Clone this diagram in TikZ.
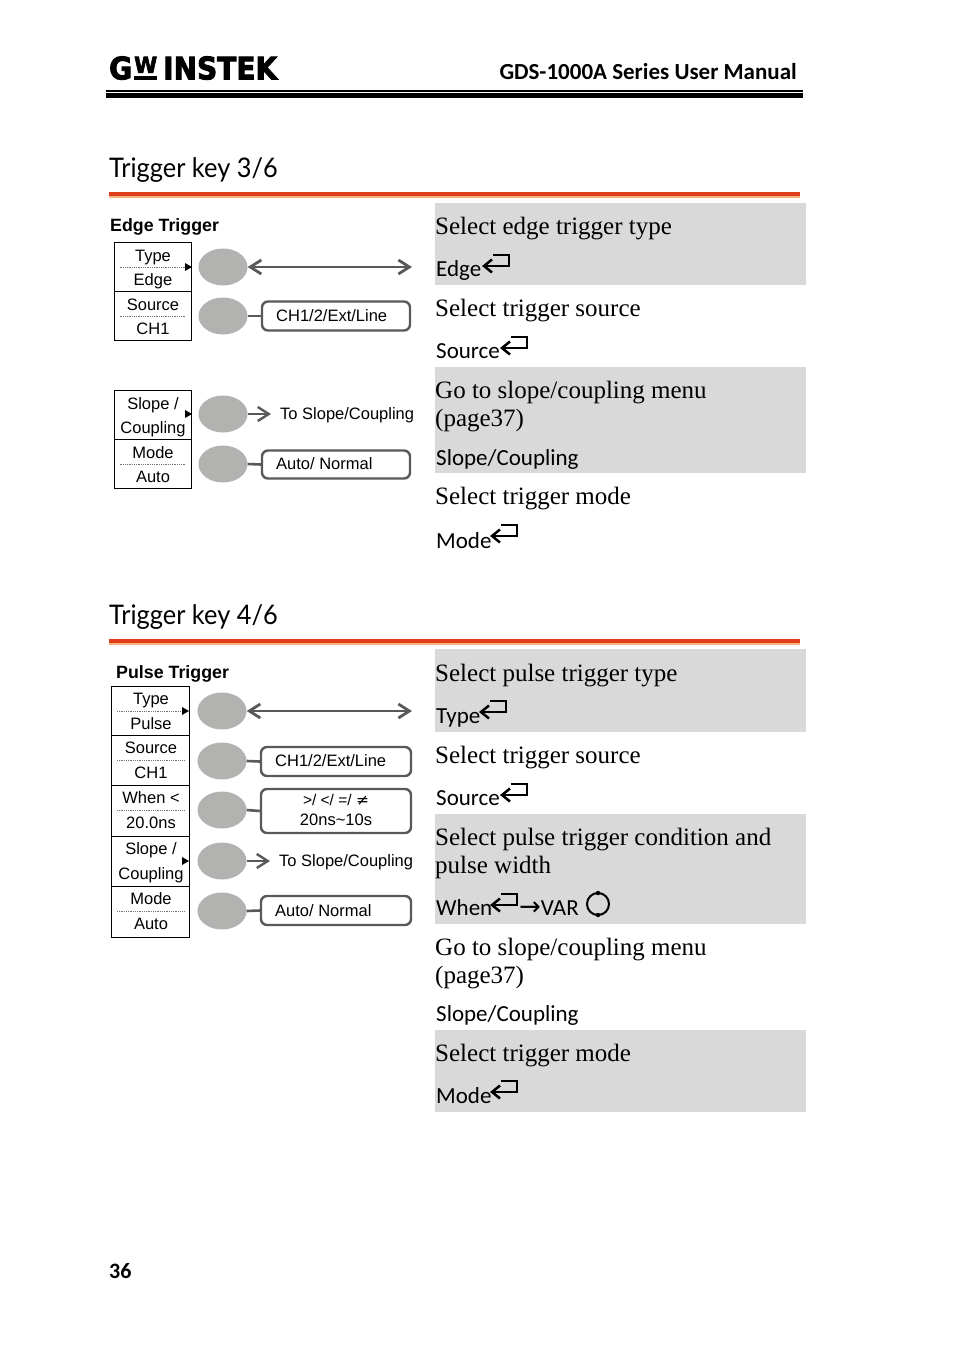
\documentclass[tikz,border=0pt]{standalone}
\usepackage{fontspec}
\usetikzlibrary{arrows.meta,calc,shapes.geometric}
\setmainfont{Liberation Serif}
\newfontfamily\arialf{Liberation Sans}
\newfontfamily\gillf[FakeStretch=0.94]{Lato}
\newfontfamily\keyf{Carlito}
\newfontfamily\logof[FakeBold=3]{DejaVu Sans}
\newfontfamily\symf{DejaVu Sans}
\definecolor{bandgray}{HTML}{D9D9D9}
\definecolor{knobgray}{HTML}{B2B2B1}
\definecolor{linegray}{HTML}{595959}
\definecolor{rulered}{HTML}{DF3F1B}
\definecolor{ruletan}{HTML}{F5B37F}
\tikzset{
  band/.style={fill=bandgray,draw=none},
  body/.style={anchor=base west,inner sep=0pt,font=\fontsize{25}{28}\selectfont},
  keytext/.style={anchor=base west,inner sep=0pt,font=\keyf\fontsize{23}{28}\selectfont},
  title/.style={anchor=base west,inner sep=0pt,font=\gillf\fontsize{27}{30}\selectfont},
  subhead/.style={anchor=base west,inner sep=0pt,font=\arialf\bfseries\fontsize{17.8}{20}\selectfont},
  cellbox/.style={draw=black,line width=1pt,inner sep=0pt,fill=white},
  celltext/.style={anchor=base,inner sep=0pt,font=\arialf\fontsize{16.5}{19}\selectfont},
  knob/.style={ellipse,fill=knobgray,inner sep=0pt,minimum width=49pt,minimum height=37pt},
  optbox/.style={draw=linegray,line width=2.4pt,rounded corners=6pt,fill=white,inner sep=0pt},
  optline/.style={draw=linegray,line width=2.6pt},
  biarrow/.style={draw=linegray,line width=2.8pt,{Straight Barb[length=11pt,width=14pt]}-{Straight Barb[length=11pt,width=14pt]}},
  onearrow/.style={draw=linegray,line width=2.4pt,-{Straight Barb[length=11pt,width=14pt]}},
  optext/.style={anchor=base west,inner sep=0pt,font=\arialf\fontsize{16.5}{19}\selectfont},
  dotline/.style={draw=black!55,line width=0.8pt,densely dotted},
  marker/.style={fill=black,draw=none},
  logopart/.style={anchor=south west,inner sep=0pt,font=\logof\bfseries},
}
\def\cellbot{18}
% cell: name, cx, cy, w, h, top, bottom, dotted(1/0), top offset
\newcommand{\softcell}[9]{%
  \node[cellbox,rectangle,minimum width=#4pt,minimum height=#5pt] (#1) at (#2,#3) {};
  \node[celltext] (#1t) at (#2+0.5,#3-#9) {#6};
  \node[celltext] (#1b) at (#2+0.5,#3+\cellbot) {#7};
  \ifnum#8=1 \draw[dotline] ($(#1.west)+(6,0)$) -- ($(#1.east)+(-6,0)$);\fi
}
\newcommand{\marktri}[2]{\fill[marker] (#1,#2-4) -- (#1+7,#2) -- (#1,#2+4) -- cycle;}
% enter key, tip at x,y (baseline of the lower stroke)
\newcommand{\enterkey}[2]{%
  \draw[line width=2.5pt,line join=miter] (#1+10,#2-11) -- (#1+26,#2-11) -- (#1+26,#2) -- (#1+2,#2);
  \draw[line width=2.5pt,line join=miter] (#1+9,#2-6.5) -- (#1+1,#2) -- (#1+9,#2+6.5);
}
\newcommand{\headrule}[1]{%
  \fill[rulered] (109,#1) rectangle (800,#1+4);
  \fill[ruletan] (109,#1+4) rectangle (800,#1+5.5);
}
\begin{document}
\begin{tikzpicture}[x=1pt,y=-1pt]
\useasboundingbox (0,0) rectangle (954,1349);
\fill[white] (0,0) rectangle (954,1349);
% header
\node[logopart] (logog) at (109,80) {\resizebox{23pt}{23pt}{G}};
\node[logopart] (logow) at (134,73) {\resizebox{23pt}{16pt}{W}};
\fill[black] (134,75.5) rectangle (157,80);
\node[logopart] (logoi) at (163,80) {\resizebox{114pt}{23pt}{INSTEK}};
\node[anchor=base east,inner sep=0pt,font=\keyf\bfseries\fontsize{23}{28}\selectfont] (hdr) at (797,79) {GDS-1000A Series User Manual};
\fill[black] (106,90) rectangle (803,92);
\fill[black] (106,93.3) rectangle (803,98);
% section 1
\node[title] (t1) at (109,177) {Trigger key 3/6};
\headrule{192}
\fill[band] (435,203) rectangle (806,285);
\fill[band] (435,367) rectangle (806,473);
\node[subhead] (s1) at (110,231) {Edge Trigger};
\softcell{a1}{152.5}{267}{77}{49}{Type}{Edge}{1}{6}
\softcell{a2}{152.5}{316}{77}{49}{Source}{CH1}{1}{6}
\softcell{a3}{152.5}{415}{77}{48.5}{Slope /}{Coupling}{0}{6}
\softcell{a4}{152.5}{464}{77}{48.5}{Mode}{Auto}{1}{6}
\marktri{185}{267}
\marktri{185}{414}
\node[knob] (k1) at (223,267) {};
\node[knob] (k2) at (223,316) {};
\node[knob] (k3) at (223,414) {};
\node[knob] (k4) at (223,464) {};
\coordinate (e1) at (412,267);
\draw[biarrow] (k1.east) -- (e1);
\node[optbox,rectangle,minimum width=148pt,minimum height=29pt] (o1) at (336,316) {};
\node[optext] (o1t) at (276,321) {CH1/2/Ext/Line};
\draw[optline] (k2.east) -- (o1.west);
\coordinate (e2) at (271,414);
\draw[onearrow] (k3.east) -- (e2);
\node[optext] (l1) at (280,419) {To Slope/Coupling};
\node[optbox,rectangle,minimum width=148pt,minimum height=28pt] (o2) at (336,464.5) {};
\node[optext] (o2t) at (276,469) {Auto/ Normal};
\draw[optline] (k4.east) -- (o2.west);
% section 1 text
\node[body] (b1) at (435,234) {Select edge trigger type};
\node[keytext] (c1) at (436,276) {Edge}; \enterkey{483}{266}
\node[body] (b2) at (435,316) {Select trigger source};
\node[keytext] (c2) at (436,358) {Source}; \enterkey{501}{348}
\node[body] (b3) at (435,398) {Go to slope/coupling menu};
\node[body] (b4) at (435,426) {(page37)};
\node[keytext] (c3) at (436,465) {Slope/Coupling};
\node[body] (b5) at (435,504) {Select trigger mode};
\node[keytext] (c4) at (436,548) {Mode}; \enterkey{491}{536}
% section 2
\node[title] (t2) at (109,624) {Trigger key 4/6};
\headrule{639}
\fill[band] (435,649) rectangle (806,732);
\fill[band] (435,814) rectangle (806,924);
\fill[band] (435,1030) rectangle (806,1112);
\node[subhead] (s2) at (116,678) {Pulse Trigger};
\def\cellbot{18.4}
\softcell{p1}{150.5}{711}{78}{49.5}{Type}{Pulse}{1}{7}
\softcell{p2}{150.5}{760.5}{78}{50}{Source}{CH1}{1}{7}
\softcell{p3}{150.5}{810.5}{78}{51}{When <}{20.0ns}{1}{7}
\softcell{p4}{150.5}{861}{78}{50}{Slope /}{Coupling}{0}{7}
\softcell{p5}{150.5}{911.5}{78}{51}{Mode}{Auto}{1}{7}
\marktri{182}{711}
\marktri{182}{861}
\node[knob] (q1) at (222,711) {};
\node[knob] (q2) at (222,761) {};
\node[knob] (q3) at (222,810) {};
\node[knob] (q4) at (222,861) {};
\node[knob] (q5) at (222,911) {};
\coordinate (e3) at (412,711);
\draw[biarrow] (q1.east) -- (e3);
\node[optbox,rectangle,minimum width=150pt,minimum height=29pt] (r1) at (336,761.5) {};
\node[optext] (r1t) at (275,766) {CH1/2/Ext/Line};
\draw[optline] (q2.east) -- (r1.west);
\node[optbox,rectangle,minimum width=150pt,minimum height=44pt] (r2) at (336,811) {};
\node[celltext,font=\arialf\fontsize{15.5}{18}\selectfont] (r2a) at (336,805) {>/ </ =/ {\symf ≠}};
\node[celltext] (r2b) at (336,825) {20ns\textasciitilde 10s};
\draw[optline] (q3.east) -- (r2.west);
\coordinate (e4) at (270,861);
\draw[onearrow] (q4.east) -- (e4);
\node[optext] (l2) at (279,866) {To Slope/Coupling};
\node[optbox,rectangle,minimum width=150pt,minimum height=29pt] (r3) at (336,910.5) {};
\node[optext] (r3t) at (275,916) {Auto/ Normal};
\draw[optline] (q5.east) -- (r3.west);
% section 2 text
\node[body] (d1) at (435,681) {Select pulse trigger type};
\node[keytext] (f1) at (436,723) {Type}; \enterkey{480}{712}
\node[body] (d2) at (435,763) {Select trigger source};
\node[keytext] (f2) at (436,805) {Source}; \enterkey{501}{795}
\node[body] (d3) at (435,845) {Select pulse trigger condition and};
\node[body] (d4) at (435,873) {pulse width};
\node[keytext] (f3) at (436,915) {When}; \enterkey{491}{905}
\node[keytext] (f3b) at (519,915) {{\symf\fontsize{26}{28}\selectfont →}VAR};
\draw[line width=2pt] (598,904) circle (11);
\fill[black] (598,893) circle (2.2);
\fill[black] (598,915) circle (2.2);
\node[body] (d5) at (435,955) {Go to slope/coupling menu};
\node[body] (d6) at (435,983) {(page37)};
\node[keytext] (f4) at (436,1021) {Slope/Coupling};
\node[body] (d7) at (435,1061) {Select trigger mode};
\node[keytext] (f5) at (436,1103) {Mode}; \enterkey{491}{1092}
% page number
\node[anchor=base west,inner sep=0pt,font=\keyf\bfseries\fontsize{22}{26}\selectfont] (pg) at (109,1278) {36};
\end{tikzpicture}
\end{document}
